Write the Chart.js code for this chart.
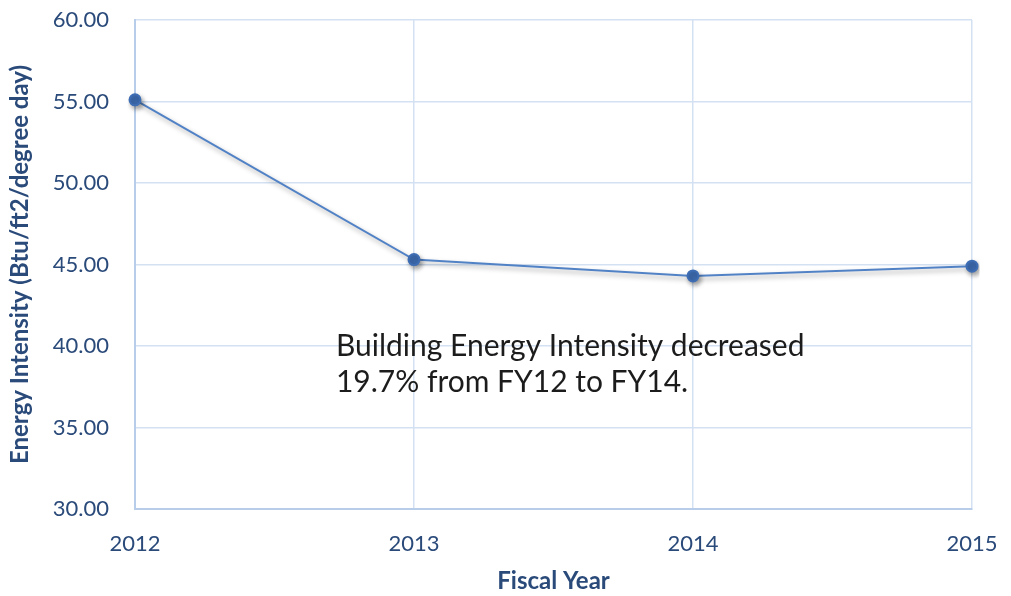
<!DOCTYPE html>
<html>
<head>
<meta charset="utf-8">
<script src="https://cdn.jsdelivr.net/npm/chart.js@4"></script>
<style>
  html, body { margin: 0; padding: 0; background: #fff; }
  #wrap { width: 1011px; height: 596px; }
</style>
</head>
<body>
<div id="wrap"><canvas id="myChart" width="1011" height="596"></canvas></div>
<script>
const years = ['2012', '2013', '2014', '2015'];
const intensity = [55.1, 45.3, 44.3, 44.9];
const noteLines = ['Building Energy Intensity decreased', '19.7% from FY12 to FY14.'];

const gridBlue = '#d3e1f3';
const labelBlue = '#2a4a7a';

// soft drop shadow under the line, like the office chart
const shadowPlugin = {
    id: 'shadow',
    beforeDatasetsDraw(chart) {
        const ctx = chart.ctx;
        ctx.save();
        ctx.shadowColor = 'rgba(0,0,0,0.35)';
        ctx.shadowBlur = 5;
        ctx.shadowOffsetX = 2;
        ctx.shadowOffsetY = 3;
    },
    afterDatasetsDraw(chart) {
        chart.ctx.restore();
    }
};

// the text note inside the plot
const notePlugin = {
    id: 'note',
    afterDraw(chart) {
        const ctx = chart.ctx;
        const x = chart.scales.x.getPixelForValue(0.72);
        const y = chart.scales.y.getPixelForValue(40.0);
        ctx.save();
        ctx.font = '30px Lato, "Open Sans", sans-serif';
        ctx.fillStyle = '#1c1c1c';
        ctx.textBaseline = 'middle';
        noteLines.forEach((t, i) => ctx.fillText(t, x, y + i * 36));
        ctx.restore();
    }
};

const config = {
    type: 'line',
    data: {
        labels: years,
        datasets: [{
            data: intensity,
            borderColor: '#5282c6',
            borderWidth: 2,
            backgroundColor: '#3e6db3',
            pointBackgroundColor: '#3e6db3',
            pointBorderColor: '#3e6db3',
            pointRadius: 5.5,
            tension: 0
        }]
    },
    options: {
        responsive: false,
        animation: false,
        layout: { padding: { top: 20, right: 39, left: 0, bottom: 0 } },
        plugins: {
            legend: { display: false },
            tooltip: { enabled: false }
        },
        scales: {
            x: {
                offset: false,
                grid: { color: gridBlue, drawTicks: false, lineWidth: 1.5 },
                border: { color: '#b8cdea', width: 2 },
                ticks: { color: labelBlue, padding: 22, font: { family: 'Lato', size: 22 } },
                title: {
                    display: true,
                    text: 'Fiscal Year',
                    color: labelBlue,
                    font: { family: 'Lato', size: 24, weight: 'bold' },
                    padding: { top: 6, bottom: 0 }
                },
                afterFit(scale) {
                    scale.height = 87;
                    scale.paddingLeft = 0;
                    scale.paddingRight = 0;
                }
            },
            y: {
                min: 30,
                max: 60,
                grid: { color: gridBlue, drawTicks: false, lineWidth: 1.5 },
                border: { color: '#b8cdea', width: 2 },
                ticks: {
                    stepSize: 5,
                    color: labelBlue,
                    padding: 26,
                    font: { family: 'Lato', size: 22 },
                    callback: v => v.toFixed(2)
                },
                title: {
                    display: true,
                    text: 'Energy Intensity (Btu/ft2/degree day)',
                    color: labelBlue,
                    font: { family: 'Lato', size: 24, weight: 'bold' },
                    padding: { top: 6, bottom: 0 }
                },
                afterFit(scale) {
                    scale.width = 135;
                    scale.paddingTop = 0;
                    scale.paddingBottom = 0;
                }
            }
        }
    },
    plugins: [shadowPlugin, notePlugin]
};

var myChart = new Chart(document.getElementById('myChart'), config);
</script>
</body>
</html>
